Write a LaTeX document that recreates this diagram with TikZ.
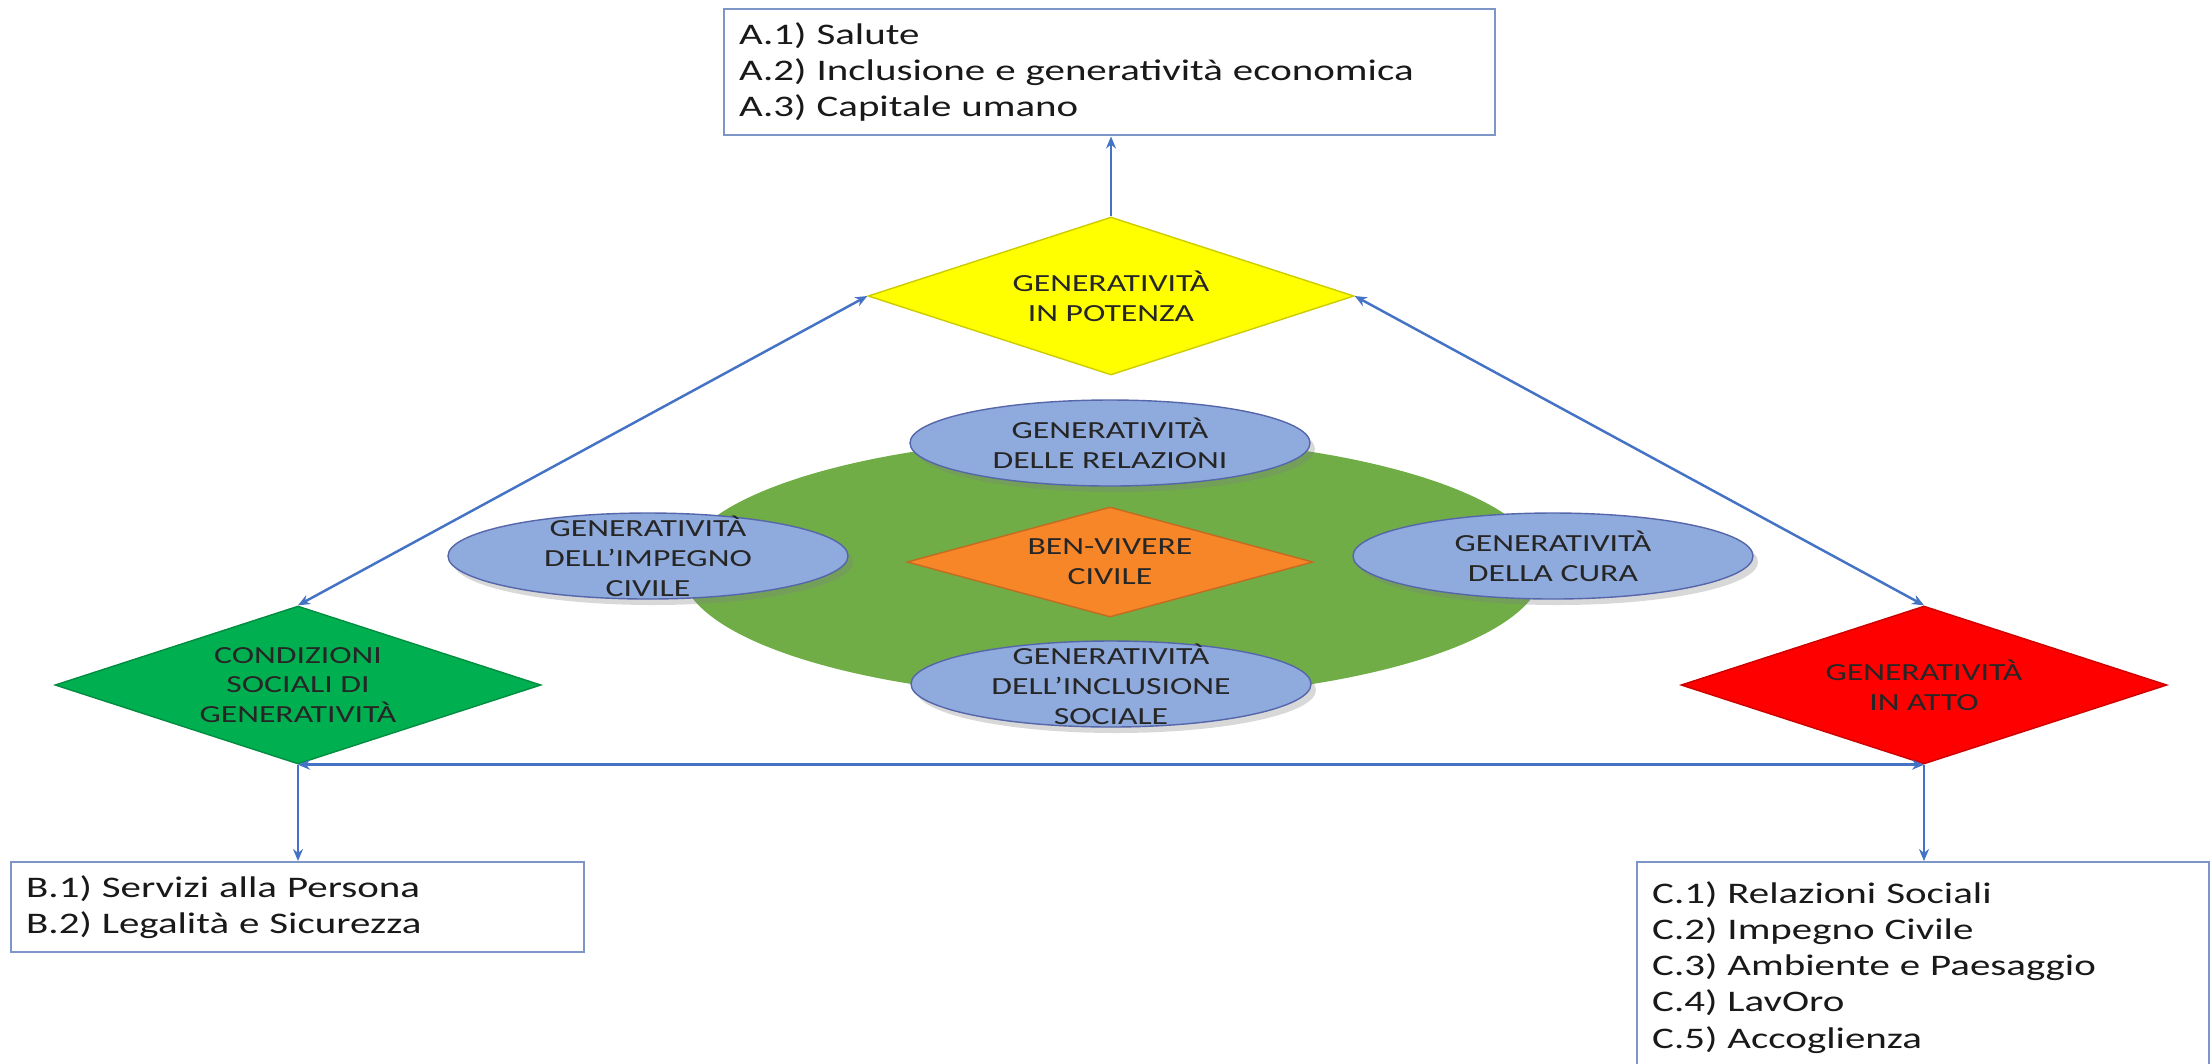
\documentclass[tikz,border=0pt]{standalone}
\usepackage{fontspec}
\setmainfont{Carlito}[FakeStretch=1.37]
\usetikzlibrary{shapes.geometric,arrows.meta,shadows}
\definecolor{linkblue}{RGB}{68,114,196}
\definecolor{boxline}{RGB}{125,150,200}
\definecolor{ydia}{RGB}{255,255,0}
\definecolor{gdia}{RGB}{0,176,80}
\definecolor{rdia}{RGB}{255,0,0}
\definecolor{odia}{RGB}{246,134,40}
\definecolor{bigg}{RGB}{112,173,71}
\definecolor{bell}{RGB}{143,170,220}
\begin{document}
\begin{tikzpicture}[x=0.1mm,y=-0.1mm,
  >={Stealth[length=1.2mm,width=1mm]},
  conn/.style={draw=linkblue, line width=0.7pt},
  listbox/.style={draw=boxline, line width=0.7pt, rectangle, align=left, inner xsep=1.5mm, inner ysep=0pt, font=\fontsize{8.5}{10.3}\selectfont, text=black!90, anchor=north west},
  bigdia/.style={diamond, draw=#1!80!black, line width=0.4pt, fill=#1, minimum width=48.6mm, minimum height=15.8mm, inner sep=0pt},
  blueell/.style={ellipse, fill=bell, draw=bell!80!blue!75!black, line width=0.4pt, minimum width=40mm, minimum height=8.6mm, inner sep=0pt, drop shadow={shadow xshift=0.5mm, shadow yshift=-0.6mm, opacity=0.3}},
  shapetext/.style={align=center, inner sep=0pt, font=\fontsize{7}{8.5}\selectfont, text=black!85},
]
\fill[white] (0,0) rectangle (2211,1063);
\useasboundingbox (0,0) rectangle (2211,1063);

% list boxes
\node[listbox, text width=74.1mm, minimum height=12.6mm] (A) at (723,8)
  {A.1) Salute\\A.2) Inclusione e generatività economica\\A.3) Capitale umano};
\node[listbox, text width=54.3mm, minimum height=9mm] (B) at (10,861)
  {B.1) Servizi alla Persona\\B.2) Legalità e Sicurezza};
\node[listbox, text width=54.2mm, minimum height=21mm] (C) at (1636,861)
  {C.1) Relazioni Sociali\\C.2) Impegno Civile\\C.3) Ambiente e Paesaggio\\C.4) LavOro\\C.5) Accoglienza};

% central cluster
\node[ellipse, fill=bigg, minimum width=86.2mm, minimum height=26.2mm, inner sep=0pt] (G) at (1112,568) {};
\node[blueell] (E1) at (1110,443) {};
\node[blueell] (E2) at (648,556) {};
\node[blueell] (E3) at (1553,556) {};
\node[blueell] (E4) at (1111,684) {};
\node[diamond, fill=odia, draw=odia!80!black, line width=0.4pt, minimum width=40.6mm, minimum height=11mm, inner sep=0pt] (O) at (1110,562) {};

% main diamonds
\node[bigdia=ydia] (Y) at (1111,296) {};
\node[bigdia=gdia] (GD) at (298,685) {};
\node[bigdia=rdia] (R) at (1924,685) {};

% texts in shapes
\node[shapetext] (tY) at (Y.center) {GENERATIVITÀ\\IN POTENZA};
\node[shapetext] (tGD) at (GD.center) {CONDIZIONI\\SOCIALI DI\\GENERATIVITÀ};
\node[shapetext] (tR) at (R.center) {GENERATIVITÀ\\IN ATTO};
\node[shapetext] (tO) at (O.center) {BEN-VIVERE\\CIVILE};
\node[shapetext] (tE1) at (E1.center) {GENERATIVITÀ\\DELLE RELAZIONI};
\node[shapetext] (tE2) at (E2.center) {GENERATIVITÀ\\DELL’IMPEGNO\\CIVILE};
\node[shapetext] (tE3) at (E3.center) {GENERATIVITÀ\\DELLA CURA};
\node[shapetext] (tE4) at (E4.center) {GENERATIVITÀ\\DELL’INCLUSIONE\\SOCIALE};

% connectors
\draw[conn,->] (Y.north) -- (Y.north |- A.south);
\draw[conn,<->] (Y.west) -- (GD.north);
\draw[conn,<->] (Y.east) -- (R.north);
\draw[conn,<->] (GD.south) -- (R.south);
\draw[conn,->] (GD.south) -- (GD.south |- B.north);
\draw[conn,->] (R.south) -- (R.south |- C.north);
\end{tikzpicture}
\end{document}
